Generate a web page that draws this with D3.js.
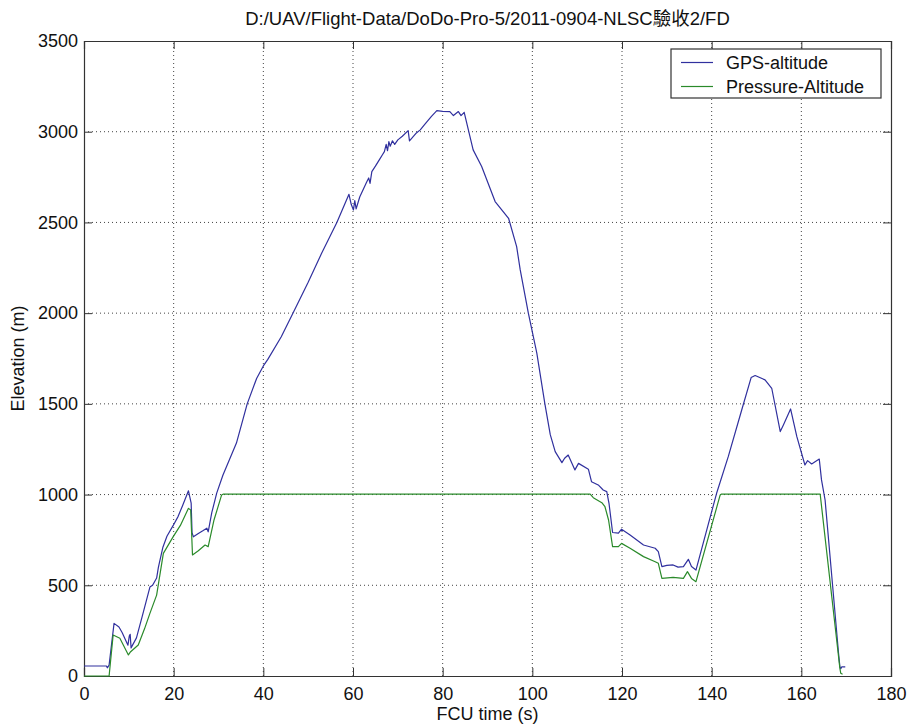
<!DOCTYPE html>
<html><head><meta charset="utf-8">
<script src="https://cdn.jsdelivr.net/npm/d3@7"></script>
<style>
html,body{margin:0;padding:0;background:#fff;}
text{font-family:"Liberation Sans",Arial,"Noto Sans CJK TC",sans-serif;fill:#111;}
</style></head><body>
<svg id="chart" width="909" height="727"></svg>
<script>
const titleText = "D:/UAV/Flight-Data/DoDo-Pro-5/2011-0904-NLSC驗收2/FD";
const xLabel = "FCU time (s)";
const yLabel = "Elevation (m)";
const seriesNames = ["GPS-altitude", "Pressure-Altitude"];
const xTicks = [0,20,40,60,80,100,120,140,160,180];
const yTicks = [0,500,1000,1500,2000,2500,3000,3500];

const gpsT = [0,5,5.2,5.6,6.7,7.8,8.5,9.8,10.1,10.3,10.5,11.7,13,14.7,15.3,16.2,16.6,17.6,18.5,19.9,21,22,23.3,23.9,24.1,24.4,25.5,26.5,27.4,27.7,28.5,29.6,31,34,36.4,38.5,40,41,44,46.6,50,53,56.4,59.1,59.6,60.1,60.4,60.7,61.5,63,63.5,63.8,64.2,65,66,66.5,67,67.4,67.7,68,68.3,68.8,69.3,70,71,72.3,72.6,74,75,76,77.5,78.7,80,81.6,82.4,83.5,84.1,84.8,86.8,88.7,91.7,94.7,96.5,97.3,99.1,101,102.8,104,105.1,106.6,107.2,108,109.5,110.3,112.5,113.2,114.7,115.8,116.6,117.1,117.9,119.2,119.9,121.8,124.8,127.4,128.1,128.9,130,131.4,132.5,133.7,134.8,135.5,136.5,141.1,143.7,146.7,148.8,149.7,151.9,153.4,155.3,156,157.6,159,160.8,161.4,162.3,164,164.5,165.3,168.3,168.6,168.8,169,169.8];
const gpsV = [55,55,45,60,290,270,240,170,220,230,155,210,330,490,500,540,600,710,770,830,880,940,1021,953,790,767,785,800,815,795,900,1008,1108,1284,1500,1640,1709,1745,1870,2000,2170,2330,2500,2655,2600,2569,2620,2575,2640,2720,2745,2715,2780,2810,2850,2870,2890,2930,2895,2945,2920,2950,2930,2955,2975,3006,2949,2990,3010,3040,3085,3116,3112,3111,3089,3111,3089,3107,2900,2808,2615,2523,2367,2238,2001,1780,1500,1330,1237,1176,1200,1218,1136,1172,1140,1071,1053,1025,1016,952,791,787,809,777,722,704,685,603,610,612,600,603,643,603,584,1007,1209,1466,1645,1656,1632,1586,1347,1384,1472,1319,1163,1187,1169,1196,1081,970,125,51,40,50,50];

const presT = [0,5.6,6.5,8,9.9,10.4,12.1,13.5,14.7,16.2,17.7,19.9,21.5,23.3,23.8,24.2,25.5,27,27.7,29,30.7,31.1,112.9,113.6,115.5,116.2,117,117.9,119.2,119.9,121.8,124.8,127.4,128.1,128.9,131.4,133.7,134.6,135.5,136.5,141.9,142.2,164.2,168.6,168.8,169.2];
const presV = [0,0,226,208,116,134,171,260,345,446,676,768,830,924,915,667,690,722,713,860,998,1003,1003,983,955,933,860,713,713,731,704,658,630,621,538,544,538,575,538,520,998,1003,1003,42,15,10];

const colors = ["#30309e", "#2a8a2a"];

const svg = d3.select("#chart");
const W = 909, H = 727;
const m = {left:84, right:W-891, top:41, bottom:H-676};
const iw = W - m.left - m.right, ih = H - m.top - m.bottom;

const x = d3.scaleLinear().domain([0,180]).range([m.left, m.left+iw]);
const y = d3.scaleLinear().domain([0,3500]).range([m.top+ih, m.top]);

const g = svg.append("g");

// grid
g.append("g").selectAll("line").data(xTicks.slice(1,-1)).join("line")
  .attr("x1",d=>x(d)).attr("x2",d=>x(d)).attr("y1",y(0)).attr("y2",y(3500))
  .attr("stroke","#444").attr("stroke-width",1).attr("stroke-dasharray","1,3");
g.append("g").selectAll("line").data(yTicks.slice(1,-1)).join("line")
  .attr("x1",x(0)).attr("x2",x(180)).attr("y1",d=>y(d)).attr("y2",d=>y(d))
  .attr("stroke","#444").attr("stroke-width",1).attr("stroke-dasharray","1,3");

// axes (ticks inward)
const fs = 18;
const xb = g.append("g").attr("transform",`translate(0,${y(0)})`)
  .call(d3.axisBottom(x).tickValues(xTicks).tickSize(-8).tickPadding(11).tickFormat(d3.format("d")));
const xt = g.append("g").attr("transform",`translate(0,${y(3500)})`)
  .call(d3.axisTop(x).tickValues(xTicks).tickSize(-8).tickFormat(""));
const yl = g.append("g").attr("transform",`translate(${x(0)},0)`)
  .call(d3.axisLeft(y).tickValues(yTicks).tickSize(-8).tickPadding(6).tickFormat(d3.format("d")));
const yr = g.append("g").attr("transform",`translate(${x(180)},0)`)
  .call(d3.axisRight(y).tickValues(yTicks).tickSize(-8).tickFormat(""));
[xb,xt,yl,yr].forEach(a=>{
  a.select(".domain").attr("stroke","#333").attr("stroke-width",1.2);
  a.selectAll(".tick line").attr("stroke","#333");
  a.selectAll(".tick text").attr("font-size",fs).attr("font-family",'"Liberation Sans",Arial,sans-serif').attr("fill","#111");
});

// lines
const line = d3.line().x(d=>x(d[0])).y(d=>y(d[1]));
const gpsData = gpsT.map((t,i)=>[t,gpsV[i]]);
const presData = presT.map((t,i)=>[t,presV[i]]);
g.append("path").datum(gpsData).attr("d",line).attr("fill","none")
  .attr("stroke",colors[0]).attr("stroke-width",1.2).attr("stroke-linejoin","round");
g.append("path").datum(presData).attr("d",line).attr("fill","none")
  .attr("stroke",colors[1]).attr("stroke-width",1.2).attr("stroke-linejoin","round");

// legend
const lg = svg.append("g");
lg.append("rect").attr("x",671).attr("y",49).attr("width",210).attr("height",49)
  .attr("fill","#fff").attr("stroke","#333").attr("stroke-width",1.2);
seriesNames.forEach((n,i)=>{
  const yy = 62.5 + i*24;
  lg.append("line").attr("x1",681).attr("x2",713).attr("y1",yy).attr("y2",yy)
    .attr("stroke",colors[i]).attr("stroke-width",1.2);
  lg.append("text").attr("x",726).attr("y",yy+6.5).attr("font-size",fs).text(n);
});

// title & labels
svg.append("text").attr("x",(x(0)+x(180))/2).attr("y",25).attr("text-anchor","middle")
  .attr("font-size",18.5).text(titleText);
svg.append("text").attr("x",(x(0)+x(180))/2).attr("y",720).attr("text-anchor","middle")
  .attr("font-size",fs).text(xLabel);
svg.append("text").attr("transform",`translate(24,${(y(0)+y(3500))/2}) rotate(-90)`)
  .attr("text-anchor","middle").attr("font-size",fs).text(yLabel);
</script>
</body></html>
